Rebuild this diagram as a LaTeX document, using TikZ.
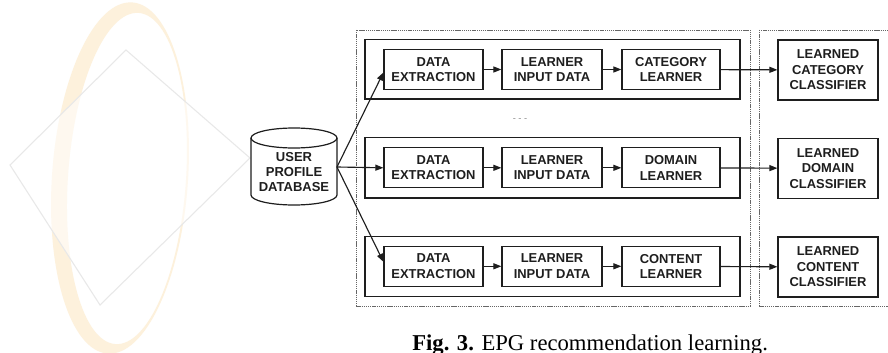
\documentclass[tikz,border=0pt]{standalone}
\usepackage{fontspec}
\setmainfont{Liberation Serif}
\newfontfamily\boxfont{Liberation Sans}
\usetikzlibrary{arrows.meta,calc}
\definecolor{ink}{HTML}{1E1E1E}
\definecolor{wmorange}{RGB}{253,241,220}
\definecolor{wmgray}{RGB}{232,232,232}
\tikzset{
  txt/.style={font=\boxfont\bfseries\fontsize{9.7}{11.6}\selectfont, text=ink, align=center, inner sep=0pt},
  stepbox/.style={txt, draw=ink, line width=0.9pt, minimum height=30pt},
  clfbox/.style={txt, draw=ink, line width=0.9pt, minimum width=75pt, minimum height=45pt},
  rowbox/.style={draw=ink, line width=1.1pt},
  groupbox/.style={draw=black!60, line width=0.7pt, dash pattern=on 1pt off 0.6pt},
  arr/.style={draw=ink, line width=0.85pt, -{Triangle[length=6pt,width=4.5pt]}}
}
\begin{document}
\begin{tikzpicture}[x=0.75pt,y=-0.75pt]
\useasboundingbox (0,0) rectangle (888,353);
\fill[white] (0,0) rectangle (888,353);
% faint watermark
\fill[wmorange, even odd rule, rotate around={-4:(120,178)}]
  (120,178) ellipse [x radius=68, y radius=176]
  (127,178) ellipse [x radius=59, y radius=166];
\filldraw[draw=wmgray, fill=white, fill opacity=0.55, line width=0.8pt]
  (126,50) -- (250,158) -- (100,305) -- (10,165) -- cycle;
% group boxes
\draw[groupbox] (356,30) rectangle (750,306);
\draw[groupbox] (759,30) -- (759,306) -- (892,306);
\draw[groupbox] (759,30) -- (892,30);
% row boxes
\draw[rowbox] (365,39.5) rectangle (740,99);
\draw[rowbox] (365,137.5) rectangle (740,198);
\draw[rowbox] (365,236.7) rectangle (740,296.5);
% database cylinder
\filldraw[draw=ink, fill=white, line width=0.9pt]
  (251,138) -- (251,195) arc[start angle=180, end angle=0, x radius=43, y radius=10]
  -- (337,138);
\draw[ink, line width=0.9pt] (294,138) ellipse [x radius=43, y radius=10];
\node[txt, font=\boxfont\bfseries\fontsize{9.75}{11.6}\selectfont] (db) at (294,172) {USER\\PROFILE\\DATABASE};
\coordinate (dbR) at (337,167);
% row 1
\node[stepbox, minimum width=74.25pt] (de1) at (433.5,69.5) {DATA\\EXTRACTION};
\node[stepbox, minimum width=75pt] (lid1) at (552,69.5) {LEARNER\\INPUT DATA};
\node[stepbox, minimum width=73.5pt] (cat) at (671,69.5) {CATEGORY\\LEARNER};
% row 2
\node[stepbox, minimum width=74.25pt] (de2) at (433.5,167.8) {DATA\\EXTRACTION};
\node[stepbox, minimum width=75pt] (lid2) at (552,167.8) {LEARNER\\INPUT DATA};
\node[stepbox, minimum width=73.5pt] (dom) at (671,167.8) {DOMAIN\\LEARNER};
% row 3
\node[stepbox, minimum width=74.25pt] (de3) at (433.5,266.3) {DATA\\EXTRACTION};
\node[stepbox, minimum width=75pt] (lid3) at (552,266.3) {LEARNER\\INPUT DATA};
\node[stepbox, minimum width=73.5pt] (con) at (671,266.3) {CONTENT\\LEARNER};
% classifiers
\node[clfbox] (clf1) at (828,70) {LEARNED\\CATEGORY\\CLASSIFIER};
\node[clfbox] (clf2) at (828,168.3) {LEARNED\\DOMAIN\\CLASSIFIER};
\node[clfbox] (clf3) at (828,267) {LEARNED\\CONTENT\\CLASSIFIER};
% ellipsis between rows
\node[font=\boxfont\fontsize{7}{8}\selectfont, text=black!45, inner sep=0pt] (dots) at (520,120) {- - -};
% connectors
\draw[arr] (dbR) -- ($(de1.west)+(0,3)$);
\draw[arr] (dbR) -- (de2.west);
\draw[arr] (dbR) -- ($(de3.west)+(0,-4.5)$);
\draw[arr] (de1) -- (lid1);
\draw[arr] (lid1) -- (cat);
\draw[arr] (de2) -- (lid2);
\draw[arr] (lid2) -- (dom);
\draw[arr] (de3) -- (lid3);
\draw[arr] (lid3) -- (con);
\draw[arr] (cat) -- (clf1);
\draw[arr] (dom) -- (clf2);
\draw[arr] (con) -- (clf3);
% caption
\node[anchor=base west, inner sep=0pt, font=\fontsize{17}{20}\selectfont] (cap) at (412,350)
  {\textbf{Fig. 3.} EPG recommendation learning.};
\end{tikzpicture}
\end{document}
